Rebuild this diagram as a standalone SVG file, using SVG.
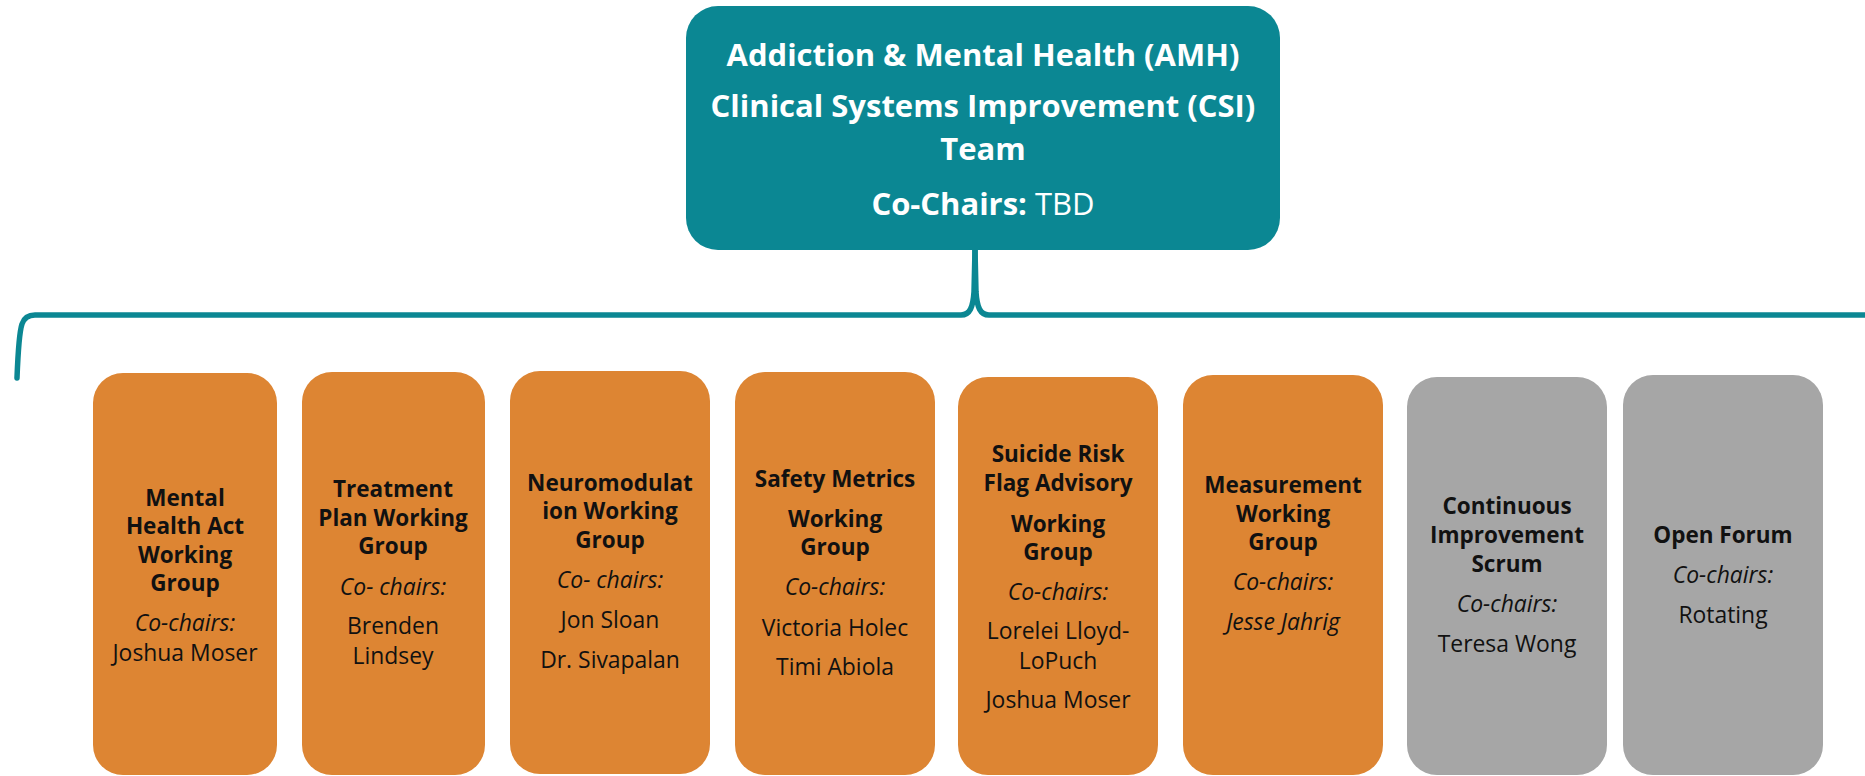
<svg xmlns="http://www.w3.org/2000/svg" width="1865" height="776" viewBox="0 0 1865 776">
<style>
text{font-family:"Open Sans","Liberation Sans",sans-serif;text-anchor:middle}
.top{fill:#0b8793}
.org{fill:#dd8533}
.gry{fill:#a6a6a6}
.tt{fill:#ffffff;font-size:31px;font-weight:700}
.b{fill:#111111;font-size:22.5px;font-weight:700}
.i{fill:#111111;font-size:22.9px;font-style:italic}
.r{fill:#111111;font-size:22.9px}
.con{fill:none;stroke:#0b8793;stroke-width:5.5;stroke-linecap:round;stroke-linejoin:round}
</style>
<rect width="1865" height="776" fill="#ffffff"/>
<g id="connectors">
<path class="con" d="M17,378 C18,352 19,333 22,324 Q25,315 35,315 L961,315 C970,315 973,307 974,292 L975,250"/>
<path class="con" d="M975,250 L976,292 C977,307 980,315 989,315 L1868,315"/>
</g>
<g id="team">
<rect class="top" x="686" y="6" width="594" height="244" rx="32"/>
<text class="tt" x="983" y="66">Addiction &amp; Mental Health (AMH)</text>
<text class="tt" x="983" y="117">Clinical Systems Improvement (CSI)</text>
<text class="tt" x="983" y="160">Team</text>
<text class="tt" x="983" y="215">Co-Chairs:<tspan font-weight="400"> TBD</tspan></text>
</g>
<g id="mha">
<rect class="org" x="93" y="373" width="184" height="402" rx="30"/>
<text class="b" x="185" y="506">Mental</text>
<text class="b" x="185" y="534">Health Act</text>
<text class="b" x="185" y="563">Working</text>
<text class="b" x="185" y="591">Group</text>
<text class="i" x="185" y="631">Co-chairs:</text>
<text class="r" x="185" y="661">Joshua Moser</text>
</g>
<g id="treatment">
<rect class="org" x="302" y="372" width="183" height="403" rx="30"/>
<text class="b" x="393" y="497">Treatment</text>
<text class="b" x="393" y="526">Plan Working</text>
<text class="b" x="393" y="554">Group</text>
<text class="i" x="393" y="595">Co- chairs:</text>
<text class="r" x="393" y="634">Brenden</text>
<text class="r" x="393" y="664">Lindsey</text>
</g>
<g id="neuro">
<rect class="org" x="510" y="371" width="200" height="403" rx="30"/>
<text class="b" x="610" y="491">Neuromodulat</text>
<text class="b" x="610" y="519">ion Working</text>
<text class="b" x="610" y="548">Group</text>
<text class="i" x="610" y="588">Co- chairs:</text>
<text class="r" x="610" y="628">Jon Sloan</text>
<text class="r" x="610" y="668">Dr. Sivapalan</text>
</g>
<g id="safety">
<rect class="org" x="735" y="372" width="200" height="403" rx="30"/>
<text class="b" x="835" y="487">Safety Metrics</text>
<text class="b" x="835" y="527">Working</text>
<text class="b" x="835" y="555">Group</text>
<text class="i" x="835" y="595">Co-chairs:</text>
<text class="r" x="835" y="636">Victoria Holec</text>
<text class="r" x="835" y="675">Timi Abiola</text>
</g>
<g id="suicide">
<rect class="org" x="958" y="377" width="200" height="398" rx="30"/>
<text class="b" x="1058" y="462">Suicide Risk</text>
<text class="b" x="1058" y="491">Flag Advisory</text>
<text class="b" x="1058" y="532">Working</text>
<text class="b" x="1058" y="560">Group</text>
<text class="i" x="1058" y="600">Co-chairs:</text>
<text class="r" x="1058" y="639">Lorelei Lloyd-</text>
<text class="r" x="1058" y="669">LoPuch</text>
<text class="r" x="1058" y="708">Joshua Moser</text>
</g>
<g id="measurement">
<rect class="org" x="1183" y="375" width="200" height="400" rx="30"/>
<text class="b" x="1283" y="493">Measurement</text>
<text class="b" x="1283" y="522">Working</text>
<text class="b" x="1283" y="550">Group</text>
<text class="i" x="1283" y="590">Co-chairs:</text>
<text class="i" x="1283" y="630">Jesse Jahrig</text>
</g>
<g id="scrum">
<rect class="gry" x="1407" y="377" width="200" height="398" rx="30"/>
<text class="b" x="1507" y="514">Continuous</text>
<text class="b" x="1507" y="543">Improvement</text>
<text class="b" x="1507" y="572">Scrum</text>
<text class="i" x="1507" y="612">Co-chairs:</text>
<text class="r" x="1507" y="652">Teresa Wong</text>
</g>
<g id="forum">
<rect class="gry" x="1623" y="375" width="200" height="400" rx="30"/>
<text class="b" x="1723" y="543">Open Forum</text>
<text class="i" x="1723" y="583">Co-chairs:</text>
<text class="r" x="1723" y="623">Rotating</text>
</g>
</svg>
